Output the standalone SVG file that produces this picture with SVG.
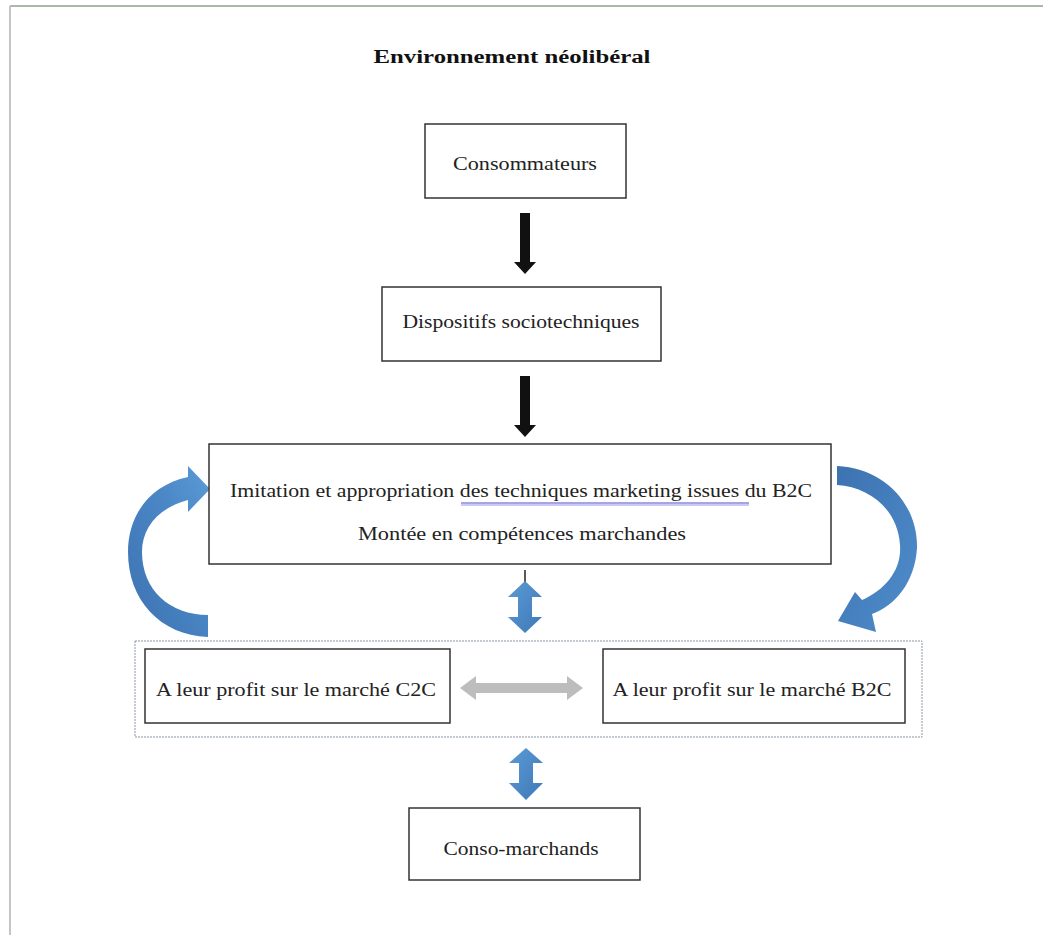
<svg xmlns="http://www.w3.org/2000/svg" width="1043" height="935" viewBox="0 0 1043 935">
<defs>
<style>
.box{fill:#ffffff;stroke:#333333;stroke-width:1.5}
.t{font-family:"Liberation Serif","Times New Roman",serif;font-size:19px;fill:#222222;text-anchor:middle}
.title{font-family:"Liberation Serif","Times New Roman",serif;font-size:18px;font-weight:bold;fill:#111111;text-anchor:middle}
.blk{fill:#111111}
.blue{fill:url(#bg)}
.grey{fill:#bdbdbd}
</style>
<linearGradient id="bg" x1="0" y1="0" x2="1" y2="1">
<stop offset="0" stop-color="#5b9bd5"/>
<stop offset="1" stop-color="#3f78b8"/>
</linearGradient>
<linearGradient id="bgl" x1="0" y1="1" x2="1" y2="0">
<stop offset="0" stop-color="#3d72b0"/>
<stop offset="0.6" stop-color="#4a86c6"/>
<stop offset="1" stop-color="#5b9bd5"/>
</linearGradient>
<linearGradient id="bgr" x1="0" y1="0" x2="1" y2="1">
<stop offset="0" stop-color="#3d72b0"/>
<stop offset="1" stop-color="#4f8dcc"/>
</linearGradient>
</defs>
<rect width="1043" height="935" fill="#ffffff"/>
<line x1="10" y1="6" x2="1043" y2="6" stroke="#a9b9a9" stroke-width="2"/>
<line x1="10" y1="6" x2="10" y2="935" stroke="#c4c4c4" stroke-width="2"/>
<text class="title" x="512" y="63" textLength="277" lengthAdjust="spacingAndGlyphs">Environnement néolibéral</text>

<g id="connectors">
<path class="blk" d="M520,213 L530,213 L530,262 L536,262 L525,274 L514,262 L520,262 Z"/>
<path class="blk" d="M520,376 L530,376 L530,425 L536,425 L525,437 L514,425 L520,425 Z"/>
<line x1="525" y1="570" x2="525" y2="582" stroke="#222" stroke-width="1.5"/>
<path class="blue" d="M525,581 L542,597 L532,597 L532,617 L542,617 L525,633 L508,617 L518,617 L518,597 L508,597 Z"/>
<path class="blue" d="M526,748 L543,763 L533,763 L533,783 L543,783 L526,800 L509,783 L519,783 L519,763 L509,763 Z"/>
<path class="grey" d="M460,688 L476,676 L476,683 L567,683 L567,676 L583,688 L567,700 L567,693 L476,693 L476,700 Z"/>
<path fill="url(#bgl)" d="M208,637 C160,635 128,600 128,552 C128,515 150,485 188,477 L188,466 L210,489 L188,512 L188,500 C158,508 142,528 142,552 C142,590 170,615 208,615 Z"/>
<path fill="url(#bgr)" d="M837,466 C885,468 918,505 917,548 C915,582 895,606 872,614 L876,632 L838,621 L855,592 L862,600 C885,590 902,570 900,545 C898,510 870,487 837,485 Z"/>
</g>

<g id="container">
<rect x="135" y="641" width="787" height="96" fill="none" stroke="#8c98a8" stroke-width="1" stroke-dasharray="2,1"/>
</g>

<g id="consommateurs">
<rect class="box" x="425" y="124" width="201" height="74"/>
<text class="t" x="525" y="170" textLength="144" lengthAdjust="spacingAndGlyphs">Consommateurs</text>
</g>
<g id="dispositifs">
<rect class="box" x="382" y="287" width="279" height="74"/>
<text class="t" x="521" y="328" textLength="237" lengthAdjust="spacingAndGlyphs">Dispositifs sociotechniques</text>
</g>
<g id="imitation">
<rect class="box" x="209" y="444" width="622" height="120"/>
<text class="t" x="521" y="497" textLength="582" lengthAdjust="spacingAndGlyphs">Imitation et appropriation des techniques marketing issues du B2C</text>
<line x1="461" y1="503" x2="749" y2="503" stroke="#4a4ad0" stroke-width="1"/>
<line x1="461" y1="505" x2="749" y2="505" stroke="#7a7ae0" stroke-width="0.8"/>
<text class="t" x="522" y="540" textLength="328" lengthAdjust="spacingAndGlyphs">Montée en compétences marchandes</text>
</g>
<g id="c2c">
<rect class="box" x="145" y="649" width="305" height="74"/>
<text class="t" x="296" y="696" textLength="280" lengthAdjust="spacingAndGlyphs">A leur profit sur le marché C2C</text>
</g>
<g id="b2c">
<rect class="box" x="603" y="649" width="302" height="74"/>
<text class="t" x="752" y="696" textLength="279" lengthAdjust="spacingAndGlyphs">A leur profit sur le marché B2C</text>
</g>
<g id="conso-marchands">
<rect class="box" x="409" y="808" width="231" height="72"/>
<text class="t" x="521" y="855" textLength="155" lengthAdjust="spacingAndGlyphs">Conso-marchands</text>
</g>
</svg>
